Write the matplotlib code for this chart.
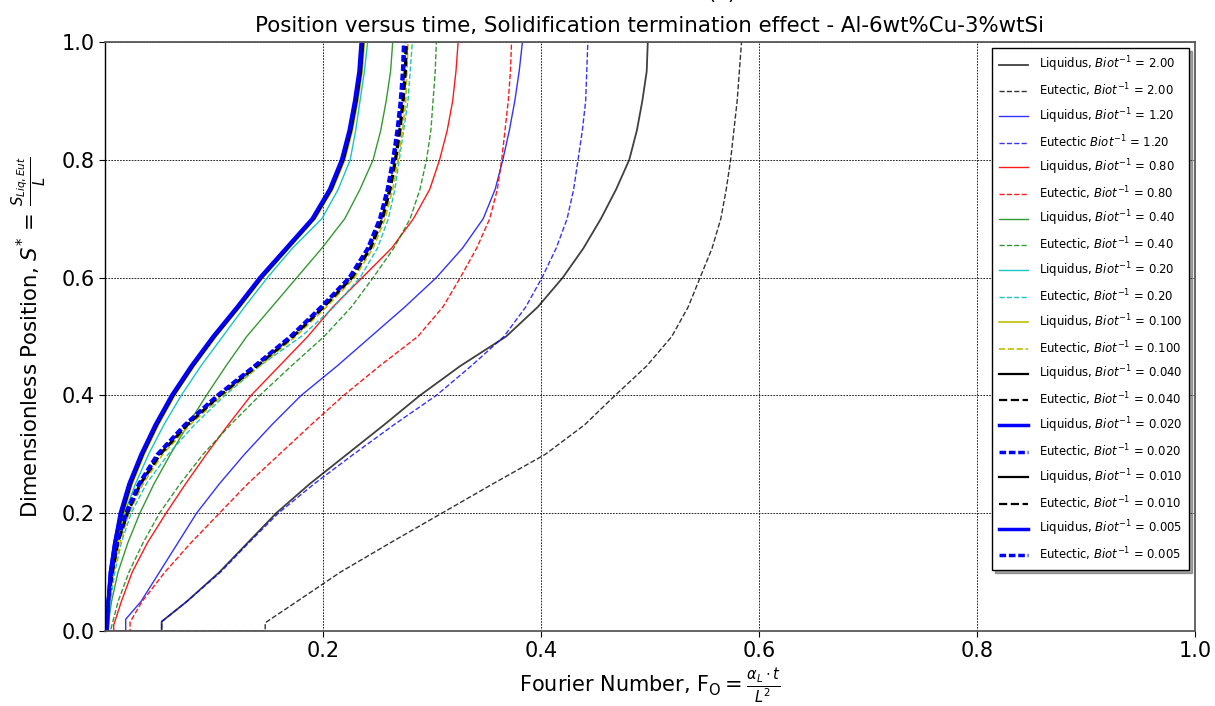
import matplotlib
matplotlib.use("Agg")
import matplotlib.pyplot as plt

# ---------------- data ----------------
# common y grid (dimensionless position) used for the rising part of the curves
y_grid = [0.0, 0.05, 0.1, 0.15, 0.2, 0.25, 0.3, 0.35, 0.4, 0.45, 0.5,
          0.55, 0.6, 0.65, 0.7, 0.75, 0.8, 0.85, 0.9, 0.95, 1.0]

# Biot^-1 = 2.00  (curves start after a delay along S* = 0)
liq_200_x = [0, 0.052, 0.052, 0.075, 0.105, 0.131, 0.157, 0.188, 0.222, 0.256, 0.289, 0.326, 0.368,
             0.397, 0.420, 0.439, 0.455, 0.469, 0.481, 0.488, 0.493, 0.497, 0.498]
liq_200_y = [0, 0.0, 0.016, 0.05, 0.1, 0.15, 0.2, 0.25, 0.3, 0.35, 0.4, 0.45, 0.5,
             0.55, 0.6, 0.65, 0.7, 0.75, 0.8, 0.85, 0.9, 0.95, 1.0]
eut_200_x = [0, 0.147, 0.147, 0.176, 0.216, 0.262, 0.309, 0.356, 0.404, 0.440, 0.468, 0.497, 0.520,
             0.535, 0.546, 0.557, 0.565, 0.570, 0.574, 0.577, 0.580, 0.582, 0.584]
eut_200_y = [0, 0.0, 0.014, 0.05, 0.1, 0.15, 0.2, 0.25, 0.3, 0.35, 0.4, 0.45, 0.5,
             0.55, 0.6, 0.65, 0.7, 0.75, 0.8, 0.85, 0.9, 0.95, 1.0]

# Biot^-1 = 1.20
liq_120_x = [0, 0.019, 0.019, 0.033, 0.050, 0.067, 0.084, 0.105, 0.128, 0.153, 0.180, 0.213, 0.244,
             0.275, 0.304, 0.328, 0.347, 0.358, 0.365, 0.371, 0.376, 0.380, 0.383]
liq_120_y = [0, 0.0, 0.02, 0.05, 0.1, 0.15, 0.2, 0.25, 0.3, 0.35, 0.4, 0.45, 0.5,
             0.55, 0.6, 0.65, 0.7, 0.75, 0.8, 0.85, 0.9, 0.95, 1.0]
eut_120_x = [0, 0.052, 0.052, 0.075, 0.106, 0.132, 0.159, 0.192, 0.228, 0.265, 0.304, 0.336, 0.366,
             0.386, 0.401, 0.414, 0.424, 0.430, 0.434, 0.438, 0.441, 0.442, 0.443]
eut_120_y = [0, 0.0, 0.016, 0.05, 0.1, 0.15, 0.2, 0.25, 0.3, 0.35, 0.4, 0.45, 0.5,
             0.55, 0.6, 0.65, 0.7, 0.75, 0.8, 0.85, 0.9, 0.95, 1.0]

# Biot^-1 = 0.80
liq_080_x = [0, 0.008, 0.008, 0.015, 0.025, 0.039, 0.056, 0.074, 0.093, 0.113, 0.134, 0.160, 0.186,
             0.209, 0.236, 0.263, 0.283, 0.298, 0.307, 0.314, 0.319, 0.322, 0.324]
liq_080_y = [0, 0.0, 0.01, 0.05, 0.1, 0.15, 0.2, 0.25, 0.3, 0.35, 0.4, 0.45, 0.5,
             0.55, 0.6, 0.65, 0.7, 0.75, 0.8, 0.85, 0.9, 0.95, 1.0]
eut_080_x = [0, 0.023, 0.023, 0.034, 0.055, 0.079, 0.105, 0.131, 0.160, 0.189, 0.219, 0.252, 0.287,
             0.310, 0.326, 0.341, 0.353, 0.360, 0.364, 0.367, 0.370, 0.372, 0.373]
eut_080_y = [0, 0.0, 0.015, 0.05, 0.1, 0.15, 0.2, 0.25, 0.3, 0.35, 0.4, 0.45, 0.5,
             0.55, 0.6, 0.65, 0.7, 0.75, 0.8, 0.85, 0.9, 0.95, 1.0]

# Biot^-1 = 0.40
liq_040_x = [0, 0.002, 0.006, 0.012, 0.021, 0.032, 0.045, 0.060, 0.076, 0.093, 0.111, 0.130,
             0.153, 0.176, 0.199, 0.220, 0.234, 0.246, 0.253, 0.258, 0.262, 0.264]
eut_040_x = [0, 0.005, 0.012, 0.022, 0.035, 0.050, 0.069, 0.090, 0.115, 0.142, 0.171, 0.201,
             0.226, 0.246, 0.265, 0.280, 0.289, 0.295, 0.299, 0.301, 0.303, 0.304]

# Biot^-1 = 0.20
liq_020_x = [0, 0.002, 0.004, 0.007, 0.012, 0.018, 0.028, 0.040, 0.054, 0.070, 0.088, 0.108,
             0.128, 0.149, 0.172, 0.199, 0.214, 0.225, 0.230, 0.234, 0.238, 0.241]
eut_020_x = [0, 0.003, 0.005, 0.009, 0.015, 0.024, 0.038, 0.058, 0.082, 0.110, 0.142, 0.180,
             0.210, 0.234, 0.250, 0.260, 0.266, 0.270, 0.274, 0.278, 0.280, 0.282]

# Biot^-1 <= 0.100 : nearly coincident curves
liq_0100_x = [0, 0.002, 0.004, 0.007, 0.012, 0.017, 0.025, 0.036, 0.049, 0.064, 0.082, 0.102,
              0.124, 0.145, 0.169, 0.193, 0.209, 0.220, 0.227, 0.232, 0.236, 0.238]
liq_0040_x = [0, 0.002, 0.003, 0.006, 0.010, 0.016, 0.024, 0.035, 0.048, 0.063, 0.081, 0.101,
              0.123, 0.144, 0.168, 0.192, 0.208, 0.219, 0.226, 0.231, 0.235, 0.237]
liq_0020_x = [0, 0.002, 0.003, 0.005, 0.009, 0.015, 0.023, 0.034, 0.047, 0.062, 0.080, 0.100,
              0.122, 0.143, 0.167, 0.191, 0.207, 0.218, 0.225, 0.230, 0.234, 0.236]
liq_0010_x = [0, 0.002, 0.003, 0.006, 0.010, 0.015, 0.023, 0.034, 0.047, 0.062, 0.080, 0.100,
              0.122, 0.143, 0.167, 0.191, 0.207, 0.218, 0.225, 0.230, 0.234, 0.236]
liq_0005_x = [0, 0.002, 0.003, 0.005, 0.009, 0.014, 0.022, 0.033, 0.046, 0.061, 0.079, 0.099,
              0.121, 0.142, 0.166, 0.190, 0.206, 0.217, 0.224, 0.229, 0.233, 0.235]

eut_0100_x = [0, 0.002, 0.004, 0.008, 0.014, 0.022, 0.035, 0.053, 0.078, 0.108, 0.142, 0.175,
              0.203, 0.229, 0.246, 0.257, 0.264, 0.269, 0.273, 0.276, 0.277, 0.278]
eut_0040_x = [0, 0.001, 0.003, 0.007, 0.012, 0.021, 0.033, 0.051, 0.076, 0.106, 0.140, 0.173,
              0.201, 0.227, 0.244, 0.255, 0.262, 0.267, 0.271, 0.274, 0.276, 0.277]
eut_0020_x = [0, 0.001, 0.003, 0.006, 0.011, 0.020, 0.032, 0.049, 0.074, 0.104, 0.138, 0.171,
              0.199, 0.225, 0.242, 0.253, 0.260, 0.265, 0.269, 0.272, 0.274, 0.275]
eut_0010_x = [0, 0.001, 0.003, 0.007, 0.012, 0.020, 0.032, 0.050, 0.075, 0.105, 0.139, 0.172,
              0.200, 0.226, 0.243, 0.254, 0.261, 0.266, 0.270, 0.273, 0.275, 0.276]
eut_0005_x = [0, 0.001, 0.003, 0.006, 0.011, 0.019, 0.031, 0.048, 0.073, 0.103, 0.137, 0.170,
              0.198, 0.224, 0.241, 0.252, 0.259, 0.264, 0.268, 0.271, 0.273, 0.274]

# y arrays for the curves that start at the origin
near_y = [0.0] + y_grid

x_ticks = [0.2, 0.4, 0.6, 0.8, 1.0]
y_ticks = [0.0, 0.2, 0.4, 0.6, 0.8, 1.0]

# ---------------- figure ----------------
fig = plt.figure(figsize=(12.15, 7.06), dpi=100)
ax = fig.add_axes([0.0864, 0.1062, 0.8971, 0.8343])

curves = [
    (liq_200_x, liq_200_y, dict(color='k', lw=1.3, alpha=0.75, ls='-'), r'Liquidus, $Biot^{-1}$ = 2.00'),
    (eut_200_x, eut_200_y, dict(color='k', lw=1.0, alpha=0.8, ls='--'), r'Eutectic, $Biot^{-1}$ = 2.00'),
    (liq_120_x, liq_120_y, dict(color='b', lw=1.0, alpha=0.8, ls='-'), r'Liquidus, $Biot^{-1}$ = 1.20'),
    (eut_120_x, eut_120_y, dict(color='b', lw=1.0, alpha=0.8, ls='--'), r'Eutectic $Biot^{-1}$ = 1.20'),
    (liq_080_x, liq_080_y, dict(color='r', lw=1.0, alpha=0.9, ls='-'), r'Liquidus, $Biot^{-1}$ = 0.80'),
    (eut_080_x, eut_080_y, dict(color='r', lw=1.0, alpha=0.9, ls='--'), r'Eutectic, $Biot^{-1}$ = 0.80'),
    (liq_040_x, near_y, dict(color='g', lw=1.0, alpha=0.8, ls='-'), r'Liquidus, $Biot^{-1}$ = 0.40'),
    (eut_040_x, near_y, dict(color='g', lw=1.0, alpha=0.8, ls='--'), r'Eutectic, $Biot^{-1}$ = 0.40'),
    (liq_020_x, near_y, dict(color='c', lw=1.0, alpha=0.9, ls='-'), r'Liquidus, $Biot^{-1}$ = 0.20'),
    (eut_020_x, near_y, dict(color='c', lw=1.0, alpha=0.9, ls='--'), r'Eutectic, $Biot^{-1}$ = 0.20'),
    (liq_0100_x, near_y, dict(color='y', lw=1.2, ls='-'), r'Liquidus, $Biot^{-1}$ = 0.100'),
    (eut_0100_x, near_y, dict(color='y', lw=1.2, ls='--'), r'Eutectic, $Biot^{-1}$ = 0.100'),
    (liq_0040_x, near_y, dict(color='k', lw=1.6, ls='-'), r'Liquidus, $Biot^{-1}$ = 0.040'),
    (eut_0040_x, near_y, dict(color='k', lw=1.6, ls='--'), r'Eutectic, $Biot^{-1}$ = 0.040'),
    (liq_0020_x, near_y, dict(color='b', lw=2.5, ls='-'), r'Liquidus, $Biot^{-1}$ = 0.020'),
    (eut_0020_x, near_y, dict(color='b', lw=2.5, ls='--'), r'Eutectic, $Biot^{-1}$ = 0.020'),
    (liq_0010_x, near_y, dict(color='k', lw=1.6, ls='-'), r'Liquidus, $Biot^{-1}$ = 0.010'),
    (eut_0010_x, near_y, dict(color='k', lw=1.6, ls='--'), r'Eutectic, $Biot^{-1}$ = 0.010'),
    (liq_0005_x, near_y, dict(color='b', lw=2.5, ls='-'), r'Liquidus, $Biot^{-1}$ = 0.005'),
    (eut_0005_x, near_y, dict(color='b', lw=2.5, ls='--'), r'Eutectic, $Biot^{-1}$ = 0.005'),
]

for xs, ys, style, lab in curves:
    st = dict(style)
    if st.get('ls') == '--' and st.get('lw', 1) >= 2.4:
        st.pop('ls')
        st['dashes'] = (1.9, 0.8)
    ax.plot(xs, ys, label=lab, **st)

ax.set_xlim(0, 1.0)
ax.set_ylim(0, 1.0)
ax.set_xticks(x_ticks)
ax.set_yticks(y_ticks)
ax.tick_params(axis='both', labelsize=15, direction='out', length=4)
ax.grid(True, color='k', linestyle=(0, (2, 1.5)), linewidth=0.6)
for s in ax.spines.values():
    s.set_color('0.35')
    s.set_linewidth(1.3)
ax.spines['left'].set_color('k')
ax.spines['left'].set_linewidth(1.0)

ax.set_xlabel(r'Fourier Number, $\mathrm{F_O} = \frac{\alpha_L \cdot t}{L^2}$', fontsize=15)
ax.set_ylabel(r'Dimensionless Position, $S^{*}$ = $\frac{S_{Liq,Eut}}{L}$', fontsize=15.3,
              labelpad=9)
ax.set_title('Position versus time, Solidification termination effect - Al-6wt%Cu-3%wtSi',
             fontsize=15.4, pad=7)
fig.text(0.594, 0.996, '(a)', fontsize=15, ha='center', va='bottom')

leg = ax.legend(loc='upper right', fontsize=8.4, shadow=True, fancybox=False, framealpha=1,
                edgecolor='k', labelspacing=0.62, handlelength=2.5, handletextpad=0.9,
                borderpad=0.6)
leg.get_frame().set_linewidth(1.0)

fig.savefig('out.png', dpi=100)
